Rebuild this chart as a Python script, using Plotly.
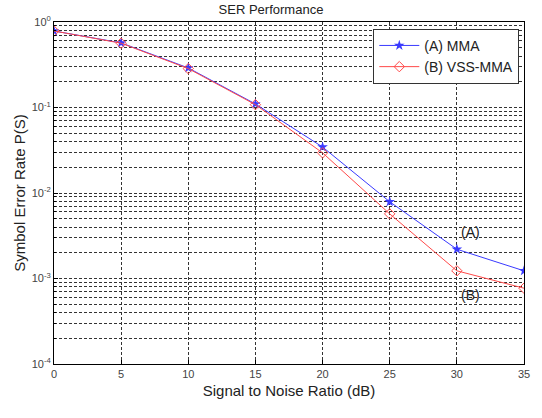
import plotly.graph_objects as go

snr = [0, 5, 10, 15, 20, 25, 30, 35]
ser_mma = [0.785, 0.57, 0.29, 0.11, 0.0345, 0.0079, 0.0022, 0.00123]
ser_vss = [0.785, 0.565, 0.285, 0.108, 0.0295, 0.0057, 0.00123, 0.00077]
x_ticks = [0, 5, 10, 15, 20, 25, 30, 35]
y_ticks = [1, 0.1, 0.01, 0.001, 0.0001]
y_labels = ["10<sup>0</sup>", "10<sup>-1</sup>", "10<sup>-2</sup>", "10<sup>-3</sup>", "10<sup>-4</sup>"]
decades = [0.0001, 0.001, 0.01, 0.1]
minor_vals = [d * m for d in decades for m in range(2, 10)]

dash = "3px,2px"
fig = go.Figure()
# invisible helper trace to carry the minor-grid axis
fig.add_trace(go.Scatter(x=snr, y=ser_mma, yaxis="y2", mode="lines", line=dict(width=0),
                         showlegend=False, hoverinfo="skip", opacity=0))
fig.add_trace(go.Scatter(x=snr, y=ser_mma, mode="lines+markers", name="(A) MMA",
                         line=dict(color="#3a3aff", width=1),
                         marker=dict(symbol="star", size=8, color="#3a3aff")))
fig.add_trace(go.Scatter(x=snr, y=ser_vss, mode="lines+markers", name="(B) VSS-MMA",
                         line=dict(color="#ff4a4a", width=1),
                         marker=dict(symbol="diamond-open", size=8, color="#ff4a4a")))

fig.add_annotation(x=31, y=-2.46, text="(A)", showarrow=False, font=dict(size=14, color="#222"))
fig.add_annotation(x=31, y=-3.19, text="(B)", showarrow=False, font=dict(size=14, color="#222"))

fig.update_layout(
    width=542, height=418,
    margin=dict(l=54, r=12, t=22, b=54),
    paper_bgcolor="white", plot_bgcolor="white",
    font=dict(family="Liberation Sans, Arial", color="#222"),
    title=dict(text="SER Performance", x=0.5, xanchor="center", y=0.988, yanchor="top",
               font=dict(size=13, color="#222")),
    xaxis=dict(range=[0, 35], tickvals=x_ticks, showgrid=True,
               gridcolor="#333", griddash=dash, gridwidth=1,
               showline=True, linecolor="black", linewidth=1, mirror=True,
               ticks="inside", ticklen=4, tickcolor="black",
               tickfont=dict(size=11, color="#444"),
               title=dict(text="Signal to Noise Ratio (dB)", font=dict(size=15, color="#222"), standoff=6),
               zeroline=False),
    yaxis=dict(type="log", range=[-4, 0], tickvals=y_ticks, ticktext=y_labels,
               showgrid=True, gridcolor="#333", griddash=dash, gridwidth=1,
               showline=True, linecolor="black", linewidth=1, mirror=True,
               ticks="inside", ticklen=4, tickcolor="black",
               tickfont=dict(size=11, color="#444"),
               title=dict(text="Symbol Error Rate P(S)", font=dict(size=15, color="#222"), standoff=2),
               zeroline=False),
    yaxis2=dict(type="log", range=[-4, 0], overlaying="y", side="left",
                tickvals=minor_vals, showticklabels=False,
                showgrid=True, gridcolor="#333", griddash=dash, gridwidth=1,
                ticks="inside", ticklen=2, tickcolor="black", zeroline=False, showline=False),
    legend=dict(x=0.99, y=0.98, xanchor="right", yanchor="top",
                bgcolor="white", bordercolor="#333", borderwidth=1,
                font=dict(size=14, color="#222"), tracegroupgap=0, itemwidth=40),
    showlegend=True,
)

fig.write_html("out.html")
